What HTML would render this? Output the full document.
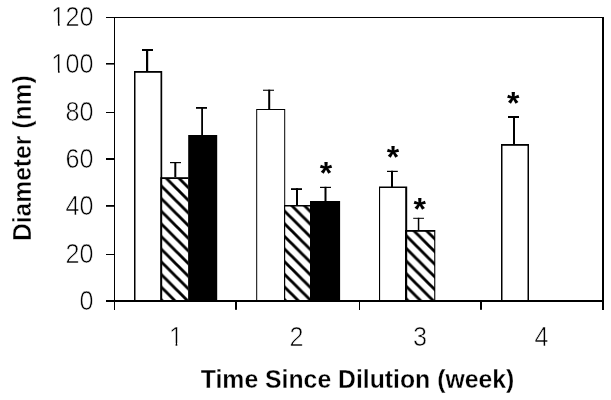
<!DOCTYPE html>
<html>
<head>
<meta charset="utf-8">
<title>Diameter vs Time Since Dilution</title>
<style>
html,body{margin:0;padding:0;background:#fff;}
body{width:611px;height:400px;overflow:hidden;position:relative;}
svg{position:absolute;left:0;top:0;display:block;}
text{font-family:"Liberation Sans",Arial,sans-serif;fill:#000;}
.tick{font-size:26.8px;stroke:#fff;stroke-width:0.6px;}
.title{font-size:26.4px;font-weight:bold;stroke:#fff;stroke-width:0.3px;}
.ytitle{stroke-width:0.45px;}
.star{font-size:32px;font-weight:bold;}
</style>
</head>
<body>
<svg width="611" height="400" viewBox="0 0 611 400">
<defs>
<pattern id="h1" patternUnits="userSpaceOnUse" x="0" y="24.6" width="12.65" height="12.65">
<rect x="0" y="0" width="12.65" height="12.65" fill="#fff"/>
<path d="M-6.325 -6.325 L18.975 18.975 M-6.325 6.325 L6.325 18.975 M6.325 -6.325 L18.975 6.325" stroke="#000" stroke-width="2.85" fill="none"/>
</pattern>
<pattern id="h2" patternUnits="userSpaceOnUse" x="0" y="-73.5" width="12.65" height="12.65">
<rect x="0" y="0" width="12.65" height="12.65" fill="#fff"/>
<path d="M-6.325 -6.325 L18.975 18.975 M-6.325 6.325 L6.325 18.975 M6.325 -6.325 L18.975 6.325" stroke="#000" stroke-width="2.85" fill="none"/>
</pattern>
<pattern id="h3" patternUnits="userSpaceOnUse" x="0" y="-170.5" width="12.65" height="12.65">
<rect x="0" y="0" width="12.65" height="12.65" fill="#fff"/>
<path d="M-6.325 -6.325 L18.975 18.975 M-6.325 6.325 L6.325 18.975 M6.325 -6.325 L18.975 6.325" stroke="#000" stroke-width="2.85" fill="none"/>
</pattern>
</defs>
<rect x="0" y="0" width="611" height="400" fill="#fff"/>
<g id="frame" shape-rendering="crispEdges" fill="#000">
<rect x="106" y="17" width="498" height="1"/>
<rect x="114" y="17" width="1" height="293"/>
<rect x="602" y="17" width="2" height="293"/>
<rect x="106" y="300" width="498" height="2"/>
</g>
<g id="ticks" fill="#000">
<rect x="106" y="63" width="9" height="1.6"/>
<rect x="106" y="112" width="9" height="1"/>
<rect x="106" y="158" width="9" height="2"/>
<rect x="106" y="205" width="9" height="1.8"/>
<rect x="106" y="254" width="9" height="1"/>
<rect x="235" y="300" width="2" height="9.8"/>
<rect x="359" y="300" width="1" height="10"/>
<rect x="480" y="300" width="2" height="9.8"/>
</g>
<g id="bars">
<rect x="134" y="71" width="28.2" height="230" fill="#000"/>
<rect x="135.5" y="72.8" width="25.0" height="228.2" fill="#fff"/>
<rect x="160.3" y="177.2" width="28.2" height="123.8" fill="#000"/>
<rect x="162.2" y="179.0" width="26.0" height="122.0" fill="url(#h1)"/>
<rect x="188.2" y="135" width="29.0" height="166" fill="#000"/>
<rect x="256.2" y="109" width="29.0" height="192" fill="#000"/>
<rect x="257.2" y="110" width="27.0" height="191" fill="#fff"/>
<rect x="284" y="205" width="26.2" height="96" fill="#000"/>
<rect x="285.2" y="206.5" width="24.8" height="94.5" fill="url(#h2)"/>
<rect x="310" y="201" width="30.1" height="100" fill="#000"/>
<rect x="379.0" y="186.5" width="28.2" height="114.5" fill="#000"/>
<rect x="380.1" y="188.0" width="25.1" height="113.0" fill="#fff"/>
<rect x="405" y="230" width="30.3" height="71" fill="#000"/>
<rect x="407.2" y="231.8" width="27.0" height="69.2" fill="url(#h3)"/>
<rect x="501" y="144" width="28" height="157" fill="#000"/>
<rect x="502.5" y="145.8" width="25.0" height="155.2" fill="#fff"/>
</g>
<g id="err" fill="#000">
<rect x="146" y="49" width="2.2" height="23"/><rect x="142" y="49" width="11" height="2"/>
<rect x="174.3" y="162" width="2.0" height="15"/><rect x="170" y="162" width="11" height="1.2"/>
<rect x="201.2" y="107" width="1.8" height="29"/><rect x="196" y="107" width="11" height="1.8"/>
<rect x="268.2" y="89.7" width="2.0" height="20.3"/><rect x="263" y="89.7" width="11" height="1.1"/>
<rect x="296" y="188.2" width="2" height="17.8"/><rect x="291" y="188.2" width="11" height="1.8"/>
<rect x="324.5" y="186.8" width="2.0" height="15.2"/><rect x="320" y="186.8" width="11" height="1.2"/>
<rect x="391" y="170.8" width="2" height="16.2"/><rect x="387" y="170.8" width="10.8" height="1.2"/>
<rect x="417.8" y="217.8" width="1.5" height="13.2"/><rect x="413.2" y="217.8" width="10.8" height="1.0"/>
<rect x="513" y="116" width="2" height="29"/><rect x="508" y="116" width="11" height="2"/>
</g>
<rect x="106" y="300" width="498" height="2" fill="#000" shape-rendering="crispEdges"/>
<g class="star" text-anchor="middle">
<text x="326.1" y="183.6">*</text>
<text x="393" y="168">*</text>
<text x="419.8" y="219.5">*</text>
<text x="513.3" y="114">*</text>
</g>
<g class="tick" text-anchor="end">
<text transform="translate(93.4,25.7) scale(0.94,1)">120</text>
<text transform="translate(93.4,73.2) scale(0.94,1)">100</text>
<text transform="translate(93.4,120.7) scale(0.94,1)">80</text>
<text transform="translate(93.4,167.7) scale(0.94,1)">60</text>
<text transform="translate(93.4,215.0) scale(0.94,1)">40</text>
<text transform="translate(93.4,262.5) scale(0.94,1)">20</text>
<text transform="translate(93.4,309.8) scale(0.94,1)">0</text>
</g>
<g class="tick" text-anchor="middle">
<text transform="translate(176.0,345.5) scale(0.94,1)">1</text>
<text transform="translate(296.6,345.5) scale(0.94,1)">2</text>
<text transform="translate(420.0,345.5) scale(0.94,1)">3</text>
<text transform="translate(541.5,345.5) scale(0.94,1)">4</text>
</g>
<g id="footfix" fill="#fff"><rect x="52.29" y="23.10" width="5.67" height="3.60"/><rect x="59.68" y="23.10" width="5.47" height="3.60"/><rect x="52.29" y="70.60" width="5.67" height="3.60"/><rect x="59.68" y="70.60" width="5.47" height="3.60"/><rect x="169.91" y="342.90" width="5.67" height="3.60"/><rect x="177.31" y="342.90" width="5.47" height="3.60"/></g>
<text class="title" transform="translate(200.8,387.5) scale(0.939,1)">Time Since Dilution (week)</text>
<text class="title ytitle" transform="translate(31.2,241.1) rotate(-90) scale(0.934,1)">Diameter (nm)</text>
</svg>
</body>
</html>
